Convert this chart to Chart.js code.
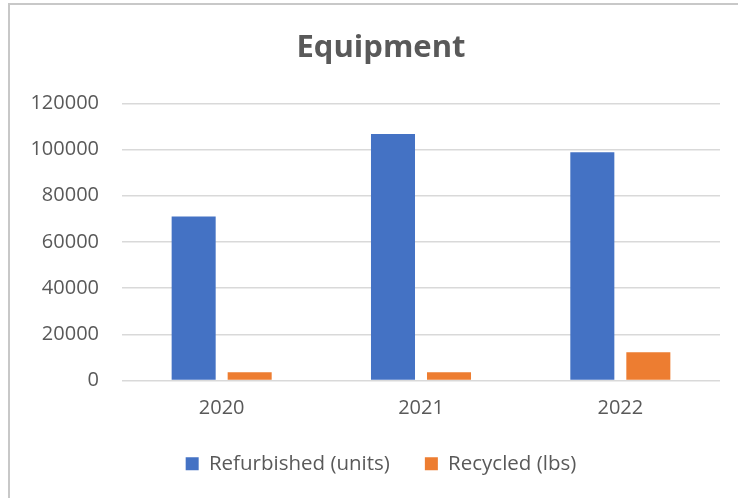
<!DOCTYPE html>
<html>
<head>
<meta charset="utf-8">
<title>Equipment</title>
<script src="https://cdn.jsdelivr.net/npm/chart.js@4"></script>
<style>
    html, body { margin: 0; padding: 0; background: #fff; overflow: hidden; }
    #wrap { position: relative; width: 738px; height: 498px; overflow: hidden; }
    /* chart frame, right and bottom edges are off-picture */
    #frame { position: absolute; left: 8px; top: 3px; width: 760px; height: 520px;
             border-left: 2px solid #c8c8c8; border-top: 2px solid #c8c8c8; }
    canvas { position: absolute; left: 0; top: 0; }
</style>
</head>
<body>
<div id="wrap">
    <div id="frame"></div>
    <canvas id="equipmentChart" width="738" height="498"></canvas>
</div>
<script>
// data
const years = ['2020', '2021', '2022'];
const refurbished = [71000, 106700, 98800];
const recycled = [3600, 3600, 12200];
const yTicks = [0, 20000, 40000, 60000, 80000, 100000, 120000];

const textColor = '#595959';
const fontFamily = "'Open Sans', 'DejaVu Sans', sans-serif";

// the Excel chart box starts further left than the plot; centre title and legend on it
const boxShift = {
    id: 'boxShift',
    afterLayout(chart) {
        chart.titleBlock.left = 42;
        chart.legend.left = 42;
    }
};

new Chart(document.getElementById('equipmentChart'), {
    type: 'bar',
    data: {
        labels: years,
        datasets: [{
            label: 'Refurbished (units)',
            data: refurbished,
            backgroundColor: '#4472C4',
            categoryPercentage: 0.562,
            barPercentage: 0.786
        }, {
            label: 'Recycled (lbs)',
            data: recycled,
            backgroundColor: '#ED7D31',
            categoryPercentage: 0.562,
            barPercentage: 0.786
        }]
    },
    plugins: [boxShift],
    options: {
        responsive: false,
        animation: false,
        devicePixelRatio: 1,
        layout: {
            padding: { left: 0, right: 18, top: 0, bottom: 14 }
        },
        plugins: {
            title: {
                display: true,
                text: 'Equipment',
                color: textColor,
                font: { family: fontFamily, size: 31, weight: 'bold', lineHeight: 1.2 },
                padding: { top: 29.5, bottom: 36.6 }
            },
            legend: {
                position: 'bottom',
                labels: {
                    color: textColor,
                    font: { family: fontFamily, size: 20.5 },
                    boxWidth: 13,
                    boxHeight: 13,
                    padding: 35
                }
            },
            tooltip: { enabled: false }
        },
        scales: {
            x: {
                grid: { display: false, drawTicks: false },
                border: { display: false },
                ticks: {
                    color: textColor,
                    font: { family: fontFamily, size: 20, lineHeight: 1 },
                    padding: 18
                },
                afterFit: function(scale) { scale.height = 38; }
            },
            y: {
                min: 0,
                max: 120000,
                grid: { color: '#d9d9d9', lineWidth: 1.5, drawTicks: false },
                border: { display: false },
                afterBuildTicks: function(scale) {
                    scale.ticks = yTicks.map(v => ({ value: v }));
                },
                ticks: {
                    color: textColor,
                    font: { family: fontFamily, size: 20 },
                    padding: 23,
                    callback: function(value) { return String(value); }
                },
                afterFit: function(scale) { scale.width = 122; }
            }
        }
    }
});
</script>
</body>
</html>
